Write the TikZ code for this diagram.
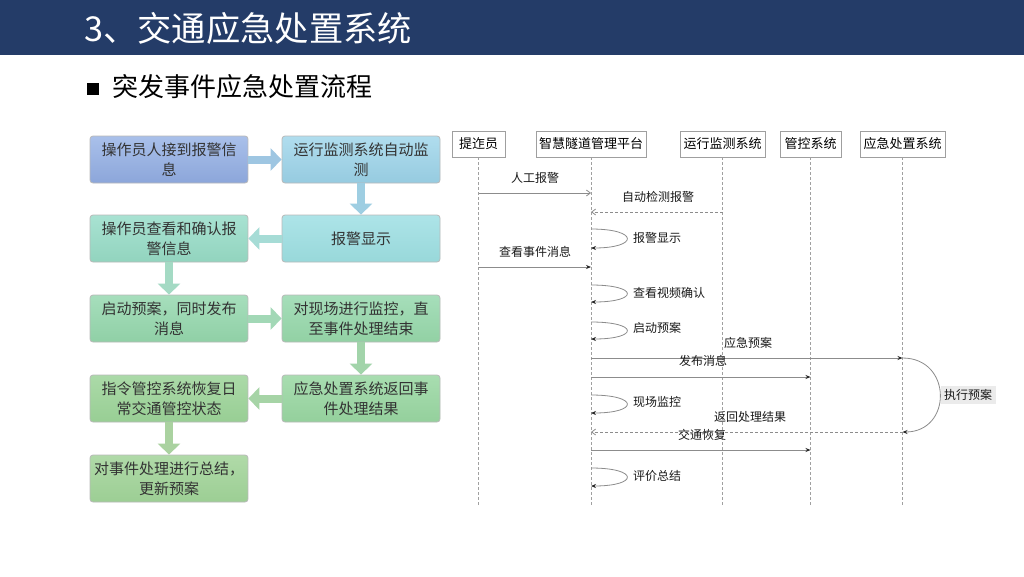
\documentclass[tikz,border=0pt]{standalone}
\usepackage{fontspec}
\setmainfont{Noto Sans CJK SC}
\usetikzlibrary{arrows.meta,calc}
\definecolor{hdr}{HTML}{243C68}
\definecolor{boxtxt}{HTML}{333333}
\definecolor{msgline}{HTML}{8C8C8C}
\definecolor{lifeline}{HTML}{A0A0A0}
\tikzset{
  fbox/.style={draw=gray!55, line width=0.8pt, rounded corners=3pt, minimum width=158pt, minimum height=47pt, inner sep=0pt, align=center, text=boxtxt, font=\fontsize{15}{20}\selectfont},
  fat/.style={line width=8pt, -{Triangle[length=11pt,width=22pt]}},
  actor/.style={draw=gray!75, line width=0.7pt, fill=white, minimum height=26pt, inner sep=0pt, font=\fontsize{13}{13}\selectfont},
  life/.style={draw=lifeline, line width=0.8pt, dash pattern=on 3pt off 2pt},
  msg/.style={draw=msgline, line width=0.8pt},
  tipf/.style={-{Stealth[length=5pt,width=4pt,color=black!85]}},
  tipo/.style={-{Straight Barb[length=4pt,width=6pt,color=msgline]}},
  lbl/.style={inner sep=0pt, font=\fontsize{12}{12}\selectfont, text=black!90},
  dash2/.style={dash pattern=on 3pt off 2pt}
}
\begin{document}
\begin{tikzpicture}[x=1pt,y=-1pt]
\useasboundingbox (0,0) rectangle (1024,576);
\fill[white] (0,0) rectangle (1024,576);
% header
\fill[hdr] (0,0) rectangle (1024,55);
\node[anchor=west, text=white, font=\fontsize{34.3}{34.3}\selectfont, inner sep=0pt] (title) at (84,28) {3、交通应急处置系统};
\node[fill=black, minimum size=12pt, inner sep=0pt] (sq) at (92.5,88.5) {};
\node[anchor=west, font=\fontsize{26}{26}\selectfont, inner sep=0pt] (sub) at (112,87) {突发事件应急处置流程};

% ---------- flowchart ----------
\node[fbox, top color={rgb,255:red,169;green,192;blue,234}, bottom color={rgb,255:red,140;green,166;blue,218}] (b1) at (169,159.5) {操作员人接到报警信\\息};
\node[fbox, top color={rgb,255:red,176;green,221;blue,238}, bottom color={rgb,255:red,150;green,203;blue,224}] (b2) at (361,159.5) {运行监测系统自动监\\测};
\node[fbox, top color={rgb,255:red,173;green,228;blue,232}, bottom color={rgb,255:red,152;green,216;blue,218}] (b3) at (361,238.5) {报警显示};
\node[fbox, top color={rgb,255:red,168;green,226;blue,210}, bottom color={rgb,255:red,146;green,212;blue,190}] (b4) at (169,238.5) {操作员查看和确认报\\警信息};
\node[fbox, top color={rgb,255:red,166;green,222;blue,188}, bottom color={rgb,255:red,144;green,208;blue,166}] (b5) at (169,318.5) {启动预案，同时发布\\消息};
\node[fbox, top color={rgb,255:red,166;green,222;blue,186}, bottom color={rgb,255:red,146;green,209;blue,164}] (b6) at (361,318.5) {对现场进行监控，直\\至事件处理结束};
\node[fbox, top color={rgb,255:red,168;green,221;blue,176}, bottom color={rgb,255:red,148;green,208;blue,156}] (b7) at (361,398.5) {应急处置系统返回事\\件处理结果};
\node[fbox, top color={rgb,255:red,171;green,218;blue,168}, bottom color={rgb,255:red,152;green,206;blue,148}] (b8) at (169,398.5) {指令管控系统恢复日\\常交通管控状态};
\node[fbox, top color={rgb,255:red,176;green,218;blue,168}, bottom color={rgb,255:red,156;green,206;blue,148}] (b9) at (169,478.5) {对事件处理进行总结，\\更新预案};

\draw[fat, draw={rgb,255:red,158;green,198;blue,226}] (b1.east) -- (b2.west);
\draw[fat, draw={rgb,255:red,158;green,206;blue,226}] (b2.south) -- (b3.north);
\draw[fat, draw={rgb,255:red,166;green,220;blue,214}] (b3.west) -- (b4.east);
\draw[fat, draw={rgb,255:red,164;green,218;blue,196}] (b4.south) -- (b5.north);
\draw[fat, draw={rgb,255:red,162;green,216;blue,182}] (b5.east) -- (b6.west);
\draw[fat, draw={rgb,255:red,162;green,212;blue,170}] (b6.south) -- (b7.north);
\draw[fat, draw={rgb,255:red,166;green,212;blue,166}] (b7.west) -- (b8.east);
\draw[fat, draw={rgb,255:red,170;green,210;blue,160}] (b8.south) -- (b9.north);

% ---------- sequence diagram ----------
\node[actor, minimum width=53pt] (a1) at (478.5,144) {提迮员};
\node[actor, minimum width=110pt] (a2) at (591,144) {智慧隧道管理平台};
\node[actor, minimum width=85pt] (a3) at (722.5,144) {运行监测系统};
\node[actor, minimum width=61pt] (a4) at (810.5,144) {管控系统};
\node[actor, minimum width=85pt] (a5) at (902.5,144) {应急处置系统};

\coordinate (yend) at (0,507);
\foreach \a in {a1,a2,a3,a4,a5} {
  \draw[life] (\a.south) -- (\a.south |- yend);
}

% message rows
\coordinate (m1) at (0,193);
\coordinate (m2) at (0,212);
\coordinate (s1a) at (0,229); \coordinate (s1b) at (0,248);
\coordinate (m4) at (0,267);
\coordinate (s2a) at (0,285); \coordinate (s2b) at (0,302);
\coordinate (s3a) at (0,322); \coordinate (s3b) at (0,339);
\coordinate (m7) at (0,358);
\coordinate (m8) at (0,377);
\coordinate (s4a) at (0,395); \coordinate (s4b) at (0,413);
\coordinate (m10) at (0,432);
\coordinate (m11) at (0,450);
\coordinate (s5a) at (0,468); \coordinate (s5b) at (0,486);

% 执行预案 label background
\fill[black!8] (941,386) rectangle (996,404);

\draw[msg, tipo] (a1 |- m1) -- (a2 |- m1);
\node[lbl] (t1) at (535,178) {人工报警};

\draw[msg, dash2, tipo] (a3 |- m2) -- (a2 |- m2);
\node[lbl] (t2) at (658,197) {自动检测报警};

\draw[msg, tipf] (a2 |- s1a) .. controls +(48,0) and +(48,0) .. (a2 |- s1b);
\node[lbl, anchor=west] (t3) at (633,238) {报警显示};

\draw[msg, tipf] (a1 |- m4) -- (a2 |- m4);
\node[lbl] (t4) at (535,252) {查看事件消息};

\draw[msg, tipf] (a2 |- s2a) .. controls +(48,0) and +(48,0) .. (a2 |- s2b);
\node[lbl, anchor=west] (t5) at (633,293) {查看视频确认};

\draw[msg, tipf] (a2 |- s3a) .. controls +(48,0) and +(48,0) .. (a2 |- s3b);
\node[lbl, anchor=west] (t6) at (633,328) {启动预案};

\draw[msg, tipf] (a2 |- m7) -- (a5 |- m7);
\node[lbl] (t7) at (748,343) {应急预案};

\draw[msg, tipf] (a2 |- m8) -- (a4 |- m8);
\node[lbl] (t8) at (703,361) {发布消息};

\draw[msg, tipf] (a2 |- s4a) .. controls +(48,0) and +(48,0) .. (a2 |- s4b);
\node[lbl, anchor=west] (t9) at (633,402) {现场监控};

\draw[msg, tipf] (a5 |- m7) .. controls +(50,0) and +(50,0) .. (a5 |- m10);
\node[lbl, anchor=west] (t13) at (944,395) {执行预案};

\draw[msg, dash2, tipo] (a5 |- m10) -- (a2 |- m10);
\node[lbl] (t10) at (750,417) {返回处理结果};

\draw[msg, tipf] (a2 |- m11) -- (a4 |- m11);
\node[lbl] (t11) at (702,435) {交通恢复};

\draw[msg, tipf] (a2 |- s5a) .. controls +(48,0) and +(48,0) .. (a2 |- s5b);
\node[lbl, anchor=west] (t12) at (633,476) {评价总结};
\end{tikzpicture}
\end{document}
